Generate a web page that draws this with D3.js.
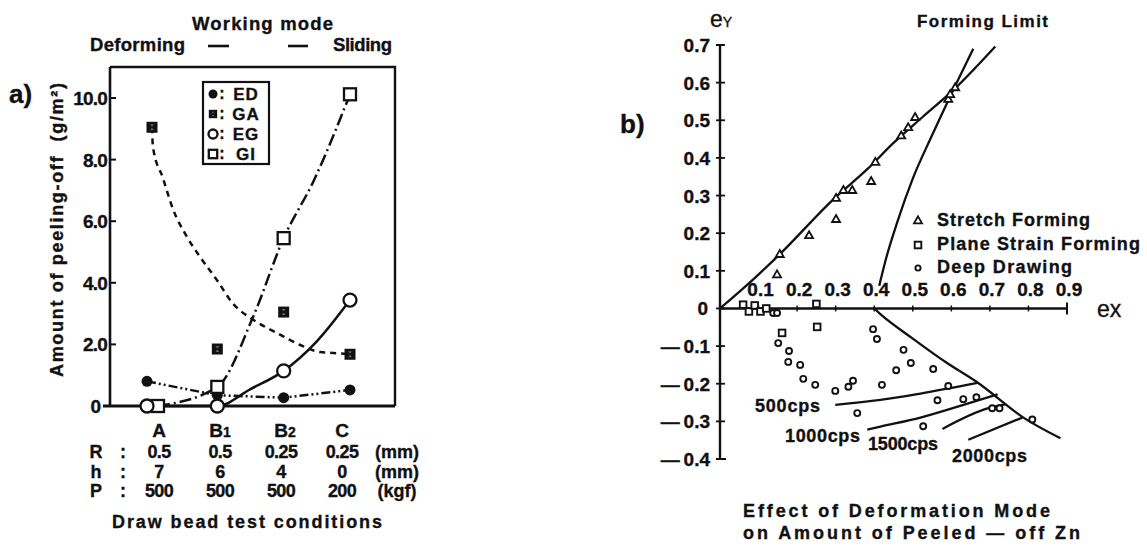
<!DOCTYPE html>
<html><head><meta charset="utf-8">
<script src="https://cdn.jsdelivr.net/npm/d3@7"></script>
<style>
body{margin:0;background:#fff}
svg{display:block}
text{font-family:"Liberation Sans",Arial,sans-serif;fill:#111;stroke:#111;stroke-width:0.35}
</style>
</head><body>
<svg id="c" width="1147" height="548"></svg>
<script>
// ---------------- Panel a data ----------------
const categories = ["A","B1","B2","C"];
const edValues = [0.8, 0.35, 0.27, 0.52];
const gaValues = [9.05, 1.85, 3.05, 1.68];
const egValues = [0, 0, 1.14, 3.44];
const giValues = [0, 0.62, 5.45, 10.12];
// fitted curves (position in category units, value)
const gaFitPos    = [0, 0.03, 0.18, 0.33, 0.54, 0.74, 0.99, 1.23, 1.54, 1.9, 2.25, 2.55, 2.75, 3];
const gaFitValues = [9.05, 8.4, 7.4, 6.4, 5.5, 4.84, 4.1, 3.34, 2.8, 2.37, 1.98, 1.75, 1.72, 1.68];
const giFitPos    = [0, 1, 1.54, 2, 2.45, 3];
const giFitValues = [0, 0.62, 2.9, 5.45, 7.3, 10.12];
const egFitPos    = [0, 1, 1.5, 2, 2.5, 3];
const egFitValues = [0, 0, 0.55, 1.14, 2.1, 3.44];
const yTicksA = [2, 4, 6, 8, 10];
const yTickLabelsA = ["2.0", "4.0", "6.0", "8.0", "10.0"];
const legendNamesA = ["ED", "GA", "EG", "GI"];
const rowNames = ["R", "h", "P"];
const rowR = ["0.5", "0.5", "0.25", "0.25"];
const rowH = ["7", "6", "4", "0"];
const rowP = ["500", "500", "500", "200"];
const rowUnits = ["(mm)", "(mm)", "(kgf)"];

// ---------------- Panel b data ----------------
const yTicksB = [0.7, 0.6, 0.5, 0.4, 0.3, 0.2, 0.1, 0, -0.1, -0.2, -0.3, -0.4];
const xTicksB = [0.1, 0.2, 0.3, 0.4, 0.5, 0.6, 0.7, 0.8, 0.9];
const stretchX = [0.148, 0.155, 0.231, 0.301, 0.301, 0.32, 0.343, 0.392, 0.403, 0.47, 0.488, 0.506, 0.592, 0.597, 0.61];
const stretchY = [0.089, 0.143, 0.193, 0.236, 0.292, 0.313, 0.313, 0.337, 0.388, 0.458, 0.48, 0.507, 0.555, 0.568, 0.586];
const planeX = [0.06, 0.075, 0.09, 0.105, 0.12, 0.161, 0.25, 0.252];
const planeY = [0.01, -0.008, 0.008, -0.008, 0.0, -0.065, 0.012, -0.049];
const deepX = [0.138, 0.148, 0.151, 0.179, 0.177, 0.208, 0.216, 0.247, 0.299, 0.333, 0.345, 0.356, 0.397, 0.407, 0.42, 0.457, 0.476, 0.495, 0.553, 0.592, 0.564, 0.631, 0.665, 0.706, 0.725, 0.527, 0.81];
const deepY = [-0.012, -0.012, -0.092, -0.113, -0.142, -0.15, -0.187, -0.203, -0.219, -0.208, -0.192, -0.278, -0.055, -0.081, -0.203, -0.164, -0.11, -0.145, -0.161, -0.206, -0.244, -0.241, -0.236, -0.265, -0.265, -0.313, -0.295];
const stretchLineX = [0, 0.087, 0.156, 0.294, 0.382, 0.45, 0.527, 0.605, 0.714];
const stretchLineY = [0, 0.078, 0.145, 0.29, 0.37, 0.44, 0.51, 0.58, 0.696];
const flcUpperX = [0.413, 0.43, 0.46, 0.5, 0.55, 0.6, 0.657];
const flcUpperY = [0.06, 0.13, 0.23, 0.345, 0.46, 0.57, 0.69];
const flcLowerX = [0.4, 0.416, 0.5, 0.589, 0.667, 0.787, 0.883];
const flcLowerY = [0, -0.015, -0.08, -0.145, -0.196, -0.29, -0.345];
const cpsNames = ["500cps", "1000cps", "1500cps", "2000cps"];
const cps500X = [0.299, 0.416, 0.52, 0.668];
const cps500Y = [-0.256, -0.243, -0.226, -0.198];
const cps1000X = [0.382, 0.416, 0.52, 0.623, 0.72];
const cps1000Y = [-0.322, -0.314, -0.29, -0.259, -0.228];
const cps1500X = [0.577, 0.696, 0.74];
const cps1500Y = [-0.32, -0.265, -0.255];
const cps2000X = [0.644, 0.784];
const cps2000Y = [-0.349, -0.29];
const legendNamesB = ["Stretch Forming", "Plane Strain Forming", "Deep Drawing"];

// ---------------- helpers ----------------
const svg = d3.select("#c");
function txt(g, x, y, s, o = {}) {
  const t = g.append("text").attr("x", x).attr("y", y)
    .attr("font-size", o.size || 16).attr("font-weight", o.weight || "bold")
    .attr("text-anchor", o.anchor || "start").text(s);
  if (o.width) t.attr("textLength", o.width).attr("lengthAdjust", "spacing");
  return t;
}
function marker(g, type, x, y, s) {
  if (type === "filledCircle") g.append("circle").attr("cx", x).attr("cy", y).attr("r", s).attr("fill", "#111");
  else if (type === "openCircle") g.append("circle").attr("cx", x).attr("cy", y).attr("r", s).attr("fill", "#fff").attr("stroke", "#111").attr("stroke-width", 2.3);
  else if (type === "filledSquare") {
    g.append("rect").attr("x", x - s).attr("y", y - s).attr("width", 2 * s).attr("height", 2 * s).attr("fill", "#111");
    g.append("path").attr("d", `M${x - s * 0.35},${y - s * 0.55}L${x + s * 0.35},${y - s * 0.55}L${x},${y - s * 0.1}Z M${x - s * 0.35},${y + s * 0.55}L${x + s * 0.35},${y + s * 0.55}L${x},${y + s * 0.1}Z`).attr("fill", "#fff").attr("opacity", 0.35);
  }
  else if (type === "openSquare") g.append("rect").attr("x", x - s).attr("y", y - s).attr("width", 2 * s).attr("height", 2 * s).attr("fill", "#fff").attr("stroke", "#111").attr("stroke-width", 2.3);
  else if (type === "triangle") {
    const h = s * 0.87;
    g.append("path").attr("d", `M${x},${y - h * 0.66}L${x + s / 2},${y + h * 0.34}L${x - s / 2},${y + h * 0.34}Z`).attr("fill", "#fff").attr("stroke", "#111").attr("stroke-width", 1.8);
  }
  else if (type === "smallSquare") g.append("rect").attr("x", x - s).attr("y", y - s).attr("width", 2 * s).attr("height", 2 * s).attr("fill", "#fff").attr("stroke", "#111").attr("stroke-width", 1.9);
  else if (type === "smallCircle") g.append("circle").attr("cx", x).attr("cy", y).attr("r", s).attr("fill", "#fff").attr("stroke", "#111").attr("stroke-width", 1.9);
}

// ================= Panel a =================
const ga = svg.append("g");
const xA = d3.scalePoint().domain(categories).range([151, 350]);
const xAPos = d3.scaleLinear().domain([0, categories.length - 1]).range([151, 350]);
const yA = d3.scaleLinear().domain([0, 10]).range([406, 98]);

// frame
ga.append("path").attr("d", "M110,67 H395 V406").attr("fill", "none").attr("stroke", "#111").attr("stroke-width", 2.4);
ga.append("path").attr("d", "M110,67 V406").attr("fill", "none").attr("stroke", "#111").attr("stroke-width", 2.6);
ga.append("path").attr("d", `M103,${yA(0)} H395`).attr("fill", "none").attr("stroke", "#111").attr("stroke-width", 2.8);

// y ticks
yTicksA.forEach((v, i) => {
  ga.append("line").attr("x1", 110).attr("x2", 116).attr("y1", yA(v)).attr("y2", yA(v)).attr("stroke", "#111").attr("stroke-width", 2);
  txt(ga, 107, yA(v) + 7, yTickLabelsA[i], { size: 19, anchor: "end" }).attr("letter-spacing", -0.8);
});
txt(ga, 101, yA(0) + 7, "0", { size: 19, anchor: "end" });

// series
const seriesA = [
  { name: "ED", vals: edValues, pos: [0, 1, 2, 3], fit: edValues, mk: "filledCircle", sz: 5.5, dash: "9,3,2,3,2,3", curve: d3.curveLinear, dx0: -4 },
  { name: "GA", vals: gaValues, pos: gaFitPos, fit: gaFitValues, mk: "filledSquare", sz: 5.5, dash: "6,5", curve: d3.curveMonotoneX, dx0: 1 },
  { name: "GI", vals: giValues, pos: giFitPos, fit: giFitValues, mk: "openSquare", sz: 6, dash: "12,4,2,4", curve: d3.curveMonotoneX, dx0: 7 },
  { name: "EG", vals: egValues, pos: egFitPos, fit: egFitValues, mk: "openCircle", sz: 6.5, dash: null, curve: d3.curveMonotoneX, dx0: -4 }
];
seriesA.forEach(s => {
  const pts = s.pos.map((p, i) => [xAPos(p) + (p === 0 ? s.dx0 : 0), yA(s.fit[i])]);
  const p = ga.append("path").attr("d", d3.line().curve(s.curve)(pts)).attr("fill", "none")
    .attr("stroke", "#111").attr("stroke-width", 2.5);
  if (s.dash) p.attr("stroke-dasharray", s.dash);
});
seriesA.forEach(s => {
  s.vals.forEach((v, i) => marker(ga, s.mk, xA(categories[i]) + (i === 0 ? s.dx0 : 0), yA(v), s.sz));
});

// legend a
ga.append("rect").attr("x", 203).attr("y", 82).attr("width", 66).attr("height", 82).attr("fill", "#fff").attr("stroke", "#111").attr("stroke-width", 2.2);
const legMk = { ED: "filledCircle", GA: "filledSquare", EG: "openCircle", GI: "openSquare" };
legendNamesA.forEach((n, i) => {
  const cy = 94 + i * 20;
  marker(ga, legMk[n], 213, cy, n === "ED" ? 4.5 : (n === "EG" ? 4.5 : 4.2));
  txt(ga, 222, cy + 5, ":", { size: 16, anchor: "middle" });
  txt(ga, 246, cy + 6, n, { size: 17, anchor: "middle" }).attr("letter-spacing", 1);
});

// titles
txt(ga, 192, 30, "Working mode", { size: 18.5, width: 141 });
txt(ga, 90, 51, "Deforming", { size: 18.5, width: 95 });
txt(ga, 333, 51, "Sliding", { size: 18.5, width: 59 });
ga.append("line").attr("x1", 208).attr("x2", 229).attr("y1", 46).attr("y2", 46).attr("stroke", "#111").attr("stroke-width", 2.6);
ga.append("line").attr("x1", 288).attr("x2", 308).attr("y1", 46).attr("y2", 46).attr("stroke", "#111").attr("stroke-width", 2.6);
txt(ga, 9, 103, "a)", { size: 26 }).attr("font-family", "'Liberation Serif',serif");

// y label
txt(ga, 0, 0, "Amount of peeling-off\u00a0\u00a0(g/m\u00b2)", { size: 18, anchor: "middle", width: 294 })
  .attr("transform", "translate(63,230) rotate(-90)");

// category labels and table
const xT = d3.scalePoint().domain(categories).range([159, 342]);
categories.forEach(c => {
  const t = txt(ga, xT(c) + (c === "B2" ? 4 : 0), 437, c[0], { size: 19, anchor: "middle" });
  if (c.length > 1) t.append("tspan").attr("font-size", 14).text(c.slice(1));
});
const rows = [rowR, rowH, rowP];
const rowBase = [458, 478, 497];
rows.forEach((r, ri) => {
  const y = rowBase[ri];
  txt(ga, 96, y, rowNames[ri], { size: 18, anchor: "middle" });
  txt(ga, 123, y, ":", { size: 18, anchor: "middle" });
  r.forEach((v, ci) => txt(ga, xT(categories[ci]), y, v, { size: 18, anchor: "middle" }).attr("letter-spacing", -0.6));
  txt(ga, 397, y, rowUnits[ri], { size: 18, anchor: "middle" });
});
txt(ga, 247, 528, "Draw bead test conditions", { size: 18, anchor: "middle", width: 270 });

// ================= Panel b =================
const gb = svg.append("g");
const xB = d3.scaleLinear().domain([0, 0.9]).range([720, 1067]);
const yB = d3.scaleLinear().domain([-0.4, 0.7]).range([459, 45]);
const lineB = d3.line().x(d => xB(d[0])).y(d => yB(d[1])).curve(d3.curveMonotoneX);
const zipB = (xs, ys) => xs.map((x, i) => [x, ys[i]]);

// y axis
gb.append("line").attr("x1", 720).attr("x2", 720).attr("y1", yB(0.7)).attr("y2", yB(-0.4)).attr("stroke", "#111").attr("stroke-width", 2.4);
gb.append("line").attr("x1", 716).attr("x2", 724).attr("y1", yB(0.7)).attr("y2", yB(0.7)).attr("stroke", "#111").attr("stroke-width", 2);
gb.append("line").attr("x1", 716).attr("x2", 726).attr("y1", yB(-0.4)).attr("y2", yB(-0.4)).attr("stroke", "#111").attr("stroke-width", 2);
yTicksB.forEach(v => {
  gb.append("line").attr("x1", 716).attr("x2", 725).attr("y1", yB(v)).attr("y2", yB(v)).attr("stroke", "#111").attr("stroke-width", 1.8);
  const lab = v === 0 ? "0" : (v < 0 ? "\u2014\u2009" + d3.format(".1f")(-v) : d3.format(".1f")(v));
  txt(gb, v === 0 ? 708 : 710, yB(v) + 7, lab, { size: 19, anchor: "end" });
});
// x axis
gb.append("line").attr("x1", 720).attr("x2", xB(0.9)).attr("y1", yB(0)).attr("y2", yB(0)).attr("stroke", "#111").attr("stroke-width", 2.4);
xTicksB.forEach(v => {
  gb.append("line").attr("x1", xB(v)).attr("x2", xB(v)).attr("y1", yB(0) - (v === 0.9 ? 6 : 3)).attr("y2", yB(0) + (v === 0.9 ? 6 : 3)).attr("stroke", "#111").attr("stroke-width", v === 0.9 ? 2 : 1.5);
  txt(gb, xB(v) + 2, yB(0) - 12, d3.format(".1f")(v), { size: 19, anchor: "middle" });
});
// axis titles
const ey = txt(gb, 710, 27, "e", { size: 23, weight: "normal" });
ey.append("tspan").attr("font-size", 14).text("Y");
txt(gb, 1097, yB(0) + 9, "ex", { size: 23, weight: "normal" });
txt(gb, 620, 133, "b)", { size: 26 }).attr("font-family", "'Liberation Serif',serif");

// lines
[[stretchLineX, stretchLineY], [flcUpperX, flcUpperY], [flcLowerX, flcLowerY],
 [cps500X, cps500Y], [cps1000X, cps1000Y], [cps1500X, cps1500Y], [cps2000X, cps2000Y]].forEach(([xs, ys]) => {
  gb.append("path").attr("d", lineB(zipB(xs, ys))).attr("fill", "none").attr("stroke", "#111").attr("stroke-width", 2.3);
});

// markers
zipB(stretchX, stretchY).forEach(d => marker(gb, "triangle", xB(d[0]), yB(d[1]), 8));
zipB(planeX, planeY).forEach(d => marker(gb, "smallSquare", xB(d[0]), yB(d[1]), 3.3));
zipB(deepX, deepY).forEach(d => marker(gb, "smallCircle", xB(d[0]), yB(d[1]), 3));

// cps labels
txt(gb, 755, 412, cpsNames[0], { size: 18, width: 65 });
txt(gb, 785, 442, cpsNames[1], { size: 18, width: 75 });
txt(gb, 868, 450, cpsNames[2], { size: 18, width: 70 });
txt(gb, 952, 462, cpsNames[3], { size: 18, width: 75 });

// legend b
const legB = [["triangle", 8], ["smallSquare", 3.3], ["smallCircle", 2.6]];
const legBase = [226, 250, 273];
const legW = [153, 203, 135];
legendNamesB.forEach((n, i) => {
  marker(gb, legB[i][0], 918, legBase[i] - 5, legB[i][1]);
  txt(gb, 937, legBase[i], n, { size: 18, width: legW[i] });
});

// titles
txt(gb, 917, 27, "Forming Limit", { size: 17, width: 131 });
txt(gb, 743, 517, "Effect of Deformation Mode", { size: 18, width: 307 });
txt(gb, 743, 539, "on Amount of Peeled \u2014 off Zn", { size: 18, width: 337 });
</script>
</body></html>
